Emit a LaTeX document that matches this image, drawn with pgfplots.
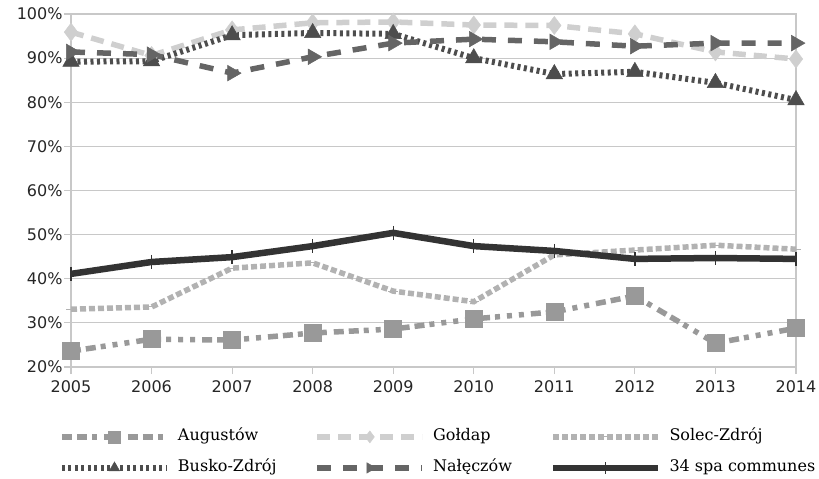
\documentclass[border=0pt]{standalone}
\usepackage{fontspec}
\setmainfont{DejaVu Serif}
\newfontfamily\ticksf{DejaVu Sans}
\usepackage{pgfplots}
\pgfplotsset{compat=1.18}
\definecolor{cAug}{HTML}{999999}
\definecolor{cGol}{HTML}{CFCFCF}
\definecolor{cSol}{HTML}{B2B2B2}
\definecolor{cBus}{HTML}{4D4D4D}
\definecolor{cNal}{HTML}{656565}
\definecolor{cSpa}{HTML}{333333}
\definecolor{cGrid}{HTML}{C8C8C8}
\begin{document}
\begin{tikzpicture}
\useasboundingbox (-71bp,-112bp) rectangle (748bp,367bp);
\begin{axis}[
  at={(0,0)}, anchor=origin,
  scale only axis, width=725bp, height=353bp,
  xmin=2005, xmax=2014, ymin=20, ymax=100,
  xtick={2005,2006,...,2014}, ytick={20,30,...,100},
  /pgf/number format/1000 sep={},
  /pgf/number format/assume math mode=true,
  yticklabel={\pgfmathprintnumber{\tick}\%},
  ticklabel style={font=\ticksf\fontsize{16bp}{18bp}\selectfont, color=black!85},
  xticklabel style={yshift=-3bp},
  yticklabel style={xshift=2bp},
  tick pos=left, tick align=outside,
  major tick length=7bp,
  tick style={color=cGrid, line width=1.2bp},
  axis line style={color=cGrid, line width=1.3bp},
  ymajorgrids, grid style={color=cGrid, line width=1.2bp},
  clip=false,
  legend columns=3,
  legend cell align=left,
  legend style={at={(rel axis cs:0.505,-0.242)}, anchor=center, draw=none, fill=none,
    font=\fontsize{16bp}{18bp}\selectfont,
    nodes={inner sep=0pt, text height=12bp, text depth=4bp},
    column sep=8bp, row sep=15bp,
    /tikz/every even column/.append style={column sep=38bp}},
  legend image code/.code={\draw[mark repeat=2,mark phase=2] plot coordinates {(0bp,0bp)(52.5bp,0bp)(105bp,0bp)};},
  legend image post style={mark size=6bp},
]
\addplot[cAug, line width=5.5bp, dash pattern=on 10bp off 5bp on 10bp off 5bp on 5bp off 7bp on 5bp off 7bp on 5bp off 7bp,
  mark=square*, mark size=8.5bp, mark options={solid, line width=0.5bp}] coordinates {
(2005,23.6)(2006,26.3)(2007,26.1)(2008,27.7)(2009,28.6)(2010,30.9)(2011,32.5)(2012,36.1)(2013,25.4)(2014,28.8)};
\addlegendentry{Augustów}
\addplot[cGol, line width=5.5bp, dash pattern=on 13bp off 8bp,
  mark=diamond*, mark size=9bp, mark options={solid, line width=0.5bp}] coordinates {
(2005,95.9)(2006,90.6)(2007,96.4)(2008,98.0)(2009,98.2)(2010,97.5)(2011,97.4)(2012,95.5)(2013,91.4)(2014,89.8)};
\addlegendentry{Gołdap}
\addplot[cSol, line width=5.5bp, dash pattern=on 6bp off 3bp,
  mark=-, mark size=5bp, mark options={solid, line width=1bp}] coordinates {
(2005,33.1)(2006,33.6)(2007,42.4)(2008,43.6)(2009,37.2)(2010,34.8)(2011,45.4)(2012,46.5)(2013,47.6)(2014,46.7)};
\addlegendentry{Solec-Zdrój}
\addplot[cBus, line width=6bp, dash pattern=on 3bp off 3.5bp,
  mark=triangle*, mark size=9.5bp, mark options={solid, line width=0.5bp}] coordinates {
(2005,89.2)(2006,89.3)(2007,95.2)(2008,95.7)(2009,95.5)(2010,90.0)(2011,86.4)(2012,86.9)(2013,84.4)(2014,80.5)};
\addlegendentry{Busko-Zdrój}
\addplot[cNal, line width=5.5bp, dash pattern=on 14bp off 12bp,
  mark=triangle*, mark size=9bp, mark options={solid, rotate=-90, line width=0.5bp}] coordinates {
(2005,91.4)(2006,90.8)(2007,86.6)(2008,90.3)(2009,93.4)(2010,94.3)(2011,93.7)(2012,92.7)(2013,93.4)(2014,93.4)};
\addlegendentry{Nałęczów}
\addplot[cSpa, line width=6.5bp,
  mark=|, mark size=7bp, mark options={solid, line width=1.3bp}] coordinates {
(2005,41.1)(2006,43.8)(2007,44.9)(2008,47.4)(2009,50.4)(2010,47.4)(2011,46.3)(2012,44.5)(2013,44.7)(2014,44.5)};
\addlegendentry{34 spa communes}
\end{axis}
\end{tikzpicture}
\end{document}
